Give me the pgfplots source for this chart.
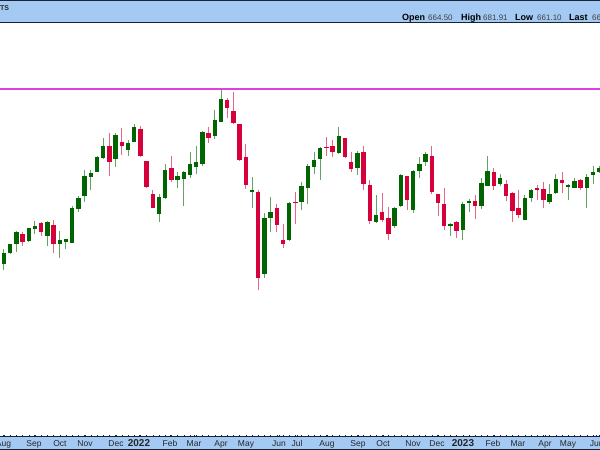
\documentclass[border=0pt]{standalone}
\usepackage{pgfplots}
\pgfplotsset{compat=1.18}
\usepackage{pgfplotstable}
\usepackage{fontspec}
\setmainfont{Liberation Sans}

\definecolor{hdr}{RGB}{164,202,244}
\definecolor{upc}{RGB}{0,100,0}
\definecolor{dnc}{RGB}{214,0,58}
\definecolor{lvl}{RGB}{224,64,224}
\definecolor{frm}{RGB}{25,35,55}

% weekly candles, values in screen rows (0 = top): body top/bottom, wick top/bottom
\pgfplotstableread{
i  bt  bb  wt  wb
0  253 264 249 270
1  244 253 244 254
2  232 244 231 252
4  228 241 228 242
5  226 229 221 234
7  222 236 221 246
9  240 244 231 258
10 239 242 239 249
11 208 243 206 243
12 198 209 196 212
13 176 196 170 202
14 173 177 170 190
15 157 172 156 172
16 146 158 138 159
18 135 159 133 167
20 143 150 140 156
21 127 142 124 142
25 197 214 194 222
26 170 198 164 199
28 176 180 172 188
29 172 179 171 206
30 164 175 152 178
31 162 167 146 174
32 132 164 131 166
34 120 136 110 139
35 99  122 90  122
40 190 192 177 208
42 218 274 213 278
43 212 218 197 232
46 203 240 202 241
48 186 202 182 210
49 166 188 164 204
50 160 167 152 174
51 148 159 147 180
54 136 153 127 154
57 153 168 151 175
60 215 222 195 223
63 208 226 207 228
64 175 206 174 207
66 171 210 170 213
67 164 171 157 178
68 154 162 152 166
72 224 226 223 236
74 204 230 202 240
75 201 203 199 212
77 183 206 178 209
78 171 186 156 186
80 178 184 174 186
84 198 220 195 220
85 190 198 189 202
88 194 202 184 204
89 179 193 174 194
91 185 187 184 200
92 181 188 178 188
94 177 188 174 208
95 172 175 166 184
96 168 172 166 173
}\upweeks

\pgfplotstableread{
i  bt  bb  wt  wb
3  234 242 232 246
6  223 232 222 236
8  225 244 220 253
17 146 162 133 176
19 142 146 128 155
22 129 156 126 157
23 161 187 161 188
24 194 208 190 208
27 168 180 156 182
33 133 138 127 143
36 100 108 98  118
37 111 123 92  124
38 124 160 124 161
39 157 185 144 189
41 192 278 190 290
44 208 225 204 232
45 240 244 224 248
47 202 203 192 224
52 147 148 137 156
53 146 152 140 157
55 138 157 138 158
56 162 169 152 172
58 152 184 146 190
59 185 221 180 224
61 212 220 193 222
62 218 234 207 240
65 176 200 176 210
69 156 192 146 194
70 194 203 194 216
71 204 226 188 230
73 222 231 221 238
76 201 206 195 219
79 172 186 168 190
81 184 196 180 201
82 193 211 192 222
83 208 215 190 218
86 188 190 185 200
87 189 200 182 208
90 180 183 172 193
93 180 188 179 190
}\downweeks

\pgfplotsset{
  candle/.style 2 args={mark=none, draw=none, forget plot,
    error bars/.cd, y dir=plus, y explicit, error mark=none,
    error bar style={draw=#1, line width=#2}},
}

\begin{document}
\begin{tikzpicture}[x=1pt,y=1pt]
% header and footer bars
\fill[hdr] (0,427) rectangle (600,450);
\draw[frm, line width=1pt] (0,449.5) -- (600,449.5);
\draw[frm, line width=1pt] (0,427) -- (600,427);
\fill[hdr] (0,0) rectangle (600,13);
\draw[frm, line width=1pt] (0,0.5) -- (600,0.5);
\begin{scope}
\clip (0,427) rectangle (600,450);
\node[anchor=base west, inner sep=0, font=\bfseries\fontsize{7}{8}\selectfont, text=black!85] at (0,439.5) {TS};
\begin{scope}[every node/.style={anchor=base west, inner sep=0}]
\node[font=\bfseries\fontsize{9}{10}\selectfont] at (402,429.5) {Open};
\node[font=\fontsize{8}{9}\selectfont, text=black!75] at (428,429.5) {664.50};
\node[font=\bfseries\fontsize{9}{10}\selectfont] at (461,429.5) {High};
\node[font=\fontsize{8}{9}\selectfont, text=black!75] at (483,429.5) {681.91};
\node[font=\bfseries\fontsize{9}{10}\selectfont] at (515,429.5) {Low};
\node[font=\fontsize{8}{9}\selectfont, text=black!75] at (537,429.5) {661.10};
\node[font=\bfseries\fontsize{9}{10}\selectfont] at (569,429.5) {Last};
\node[font=\fontsize{8}{9}\selectfont, text=black!75] at (592,429.5) {668.12};
\end{scope}
\end{scope}
\begin{axis}[
  at={(0,13)}, anchor=south west,
  scale only axis, width=600pt, height=414pt,
  xmin=-0.645, xmax=96.13, ymin=13, ymax=427,
  axis x line*=bottom, axis y line=none,
  x axis line style={-, frm, line width=1pt},
  xtick={-0.08,4.84,9.03,13.06,18.06,21.77,26.77,30.65,35,39.03,44.35,47.26,52.1,57.1,61.13,65.97,69.84,74.03,78.87,82.9,87.26,90.97,95.6},
  xticklabels={Aug,Sep,Oct,Nov,Dec,\textbf{\fontsize{10}{10}\selectfont 2022},Feb,Mar,Apr,May,Jun,Jul,Aug,Sep,Oct,Nov,Dec,\textbf{\fontsize{10}{10}\selectfont 2023},Feb,Mar,Apr,May,Jun},
  minor xtick={0,1,...,96},
  tick align=inside, major tick length=2pt, minor tick length=2pt,
  tick style={frm, line width=0.5pt},
  xticklabel style={anchor=base, yshift=-10pt, font=\fontsize{8.5}{9}\selectfont, text=black!85},
]
% level line
\addplot[lvl, line width=1.2pt] coordinates {(-1,361) (97,361)};
% wicks
\addplot[candle={upc!60}{1pt}]
  table[x=i, y expr=450-\thisrow{wb}, y error plus expr=\thisrow{wb}-\thisrow{wt}] {\upweeks};
\addplot[candle={dnc!60}{1pt}]
  table[x=i, y expr=450-\thisrow{wb}, y error plus expr=\thisrow{wb}-\thisrow{wt}] {\downweeks};
% bodies
\addplot[candle={upc}{4.5pt}]
  table[x=i, y expr=450-\thisrow{bb}, y error plus expr=\thisrow{bb}-\thisrow{bt}] {\upweeks};
\addplot[candle={dnc}{4.5pt}]
  table[x=i, y expr=450-\thisrow{bb}, y error plus expr=\thisrow{bb}-\thisrow{bt}] {\downweeks};
\end{axis}
\pgfresetboundingbox
\useasboundingbox (0,0) rectangle (600,450);
\end{tikzpicture}
\end{document}
